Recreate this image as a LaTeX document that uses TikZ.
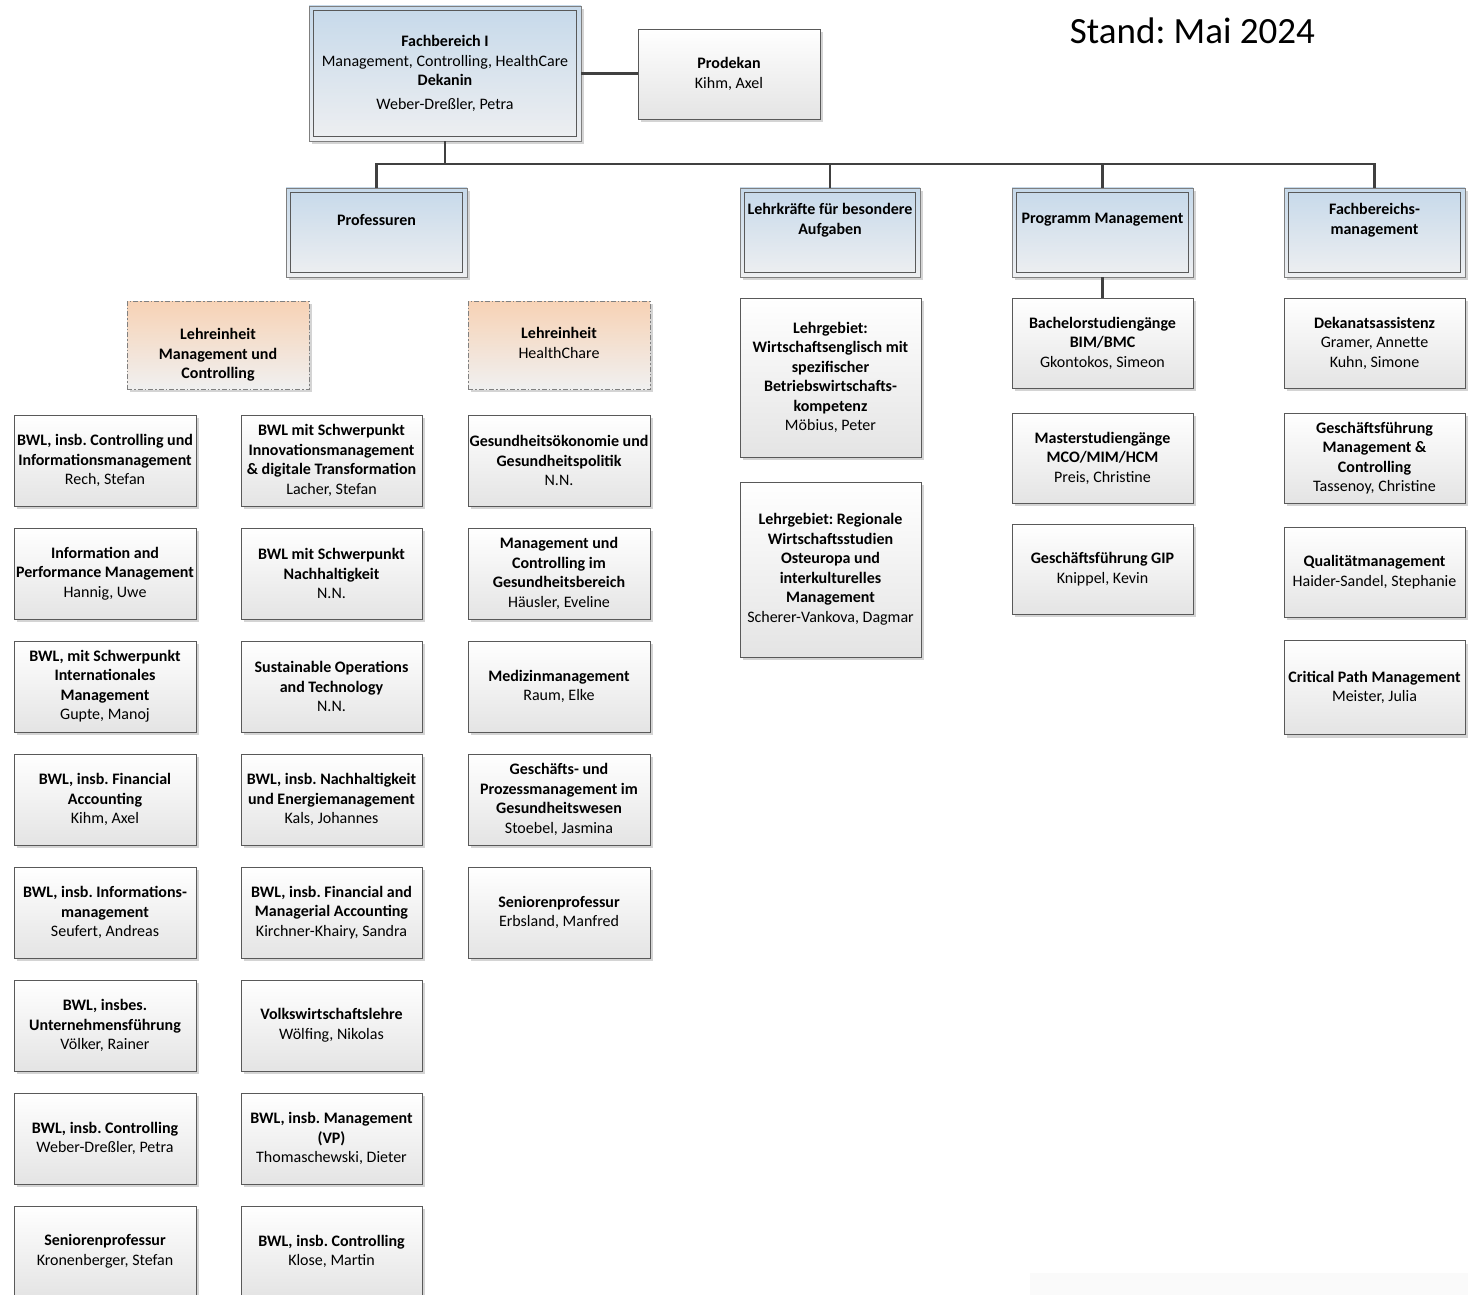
\documentclass[tikz,border=0pt]{standalone}
\usepackage{fontspec}
\setmainfont{Carlito}
\frenchspacing
\usetikzlibrary{shadows}
\definecolor{cblue}{HTML}{C6D9EA}
\definecolor{cgrey}{HTML}{EEEFF1}
\definecolor{cleafbot}{HTML}{E4E4E4}
\definecolor{cpeach}{HTML}{F7D2B5}
\definecolor{cpeachbot}{HTML}{F0F0F0}
\definecolor{cborder}{HTML}{595959}
\definecolor{couter}{HTML}{7F7F7F}
\definecolor{cline}{HTML}{404040}
\definecolor{cshadow}{HTML}{D4D4D4}
\newcommand{\B}[1]{\textbf{#1}}
\tikzset{
  base/.style={font=\fontsize{16}{19.5}\selectfont, align=center, inner sep=0pt},
  shad/.style={drop shadow={shadow xshift=3pt, shadow yshift=-3pt, fill=cshadow, opacity=1}},
  leaf/.style={base, shad, draw=cborder, line width=0.8pt, top color=white, bottom color=cleafbot,
    minimum width=182pt, minimum height=91pt},
  midbox/.style={base, shad, draw=couter, line width=0.8pt, top color=cblue, bottom color=cgrey,
    path picture={\draw[cborder, line width=1pt]
      ([shift={(4.5pt,4.5pt)}]path picture bounding box.south west) rectangle
      ([shift={(-4.5pt,-4.5pt)}]path picture bounding box.north east);}},
  unit/.style={base, shad, draw=gray, line width=0.8pt, dash pattern=on 5pt off 2pt on 1.5pt off 2pt,
    top color=cpeach, bottom color=cpeachbot, minimum width=182pt, minimum height=88pt},
  conn/.style={draw=cline, line width=2.8pt},
  title/.style={font=\fontsize{37}{44}\selectfont, inner sep=0pt, anchor=base}
}
\begin{document}
\begin{tikzpicture}[x=1pt, y=-1pt]
\useasboundingbox (0,0) rectangle (1468,1295);
\fill[black!2] (1030,1273) rectangle (1468,1295);

\node[title] (stand) at (1192.5,44) {Stand: Mai 2024};

% top level
\node[midbox, minimum width=272pt, minimum height=135pt] (fb) at (445,73.5)
  {\B{Fachbereich I}\\Management, Controlling, HealthCare\\\B{Dekanin}\\[4pt]Weber-Dreßler, Petra};
\node[leaf, minimum height=90pt] (pro) at (729,74) {\B{Prodekan}\\Kihm, Axel};

% second level
\node[midbox, minimum width=181pt, minimum height=89pt,
  label={[base, yshift=12.5pt]center:\B{Professuren}}] (prof) at (376.5,232.5) {};
\node[midbox, minimum width=180pt, minimum height=89pt,
  label={[base, yshift=12.5pt]center:{\B{Lehrkräfte für besondere}\\\B{Aufgaben}}}] (lfba) at (830,232.5) {};
\node[midbox, minimum width=181pt, minimum height=89pt,
  label={[base, yshift=12.5pt]center:\B{Programm Management}}] (prog) at (1102.5,232.5) {};
\node[midbox, minimum width=181pt, minimum height=89pt,
  label={[base, yshift=12.5pt]center:{\B{Fachbereichs-}\\\B{management}}}] (fbm) at (1374.5,232.5) {};

% connectors
\coordinate (bus) at (445,164);
\draw[conn] (fb.east) -- (fb.east -| pro.west);
\draw[conn] (fb.south) -- (bus);
\draw[conn] (bus) -| (prof.north);
\draw[conn] (bus) -| (lfba.north);
\draw[conn] (bus) -| (prog.north);
\draw[conn] (bus) -| (fbm.north);

% Lehreinheiten
\node[unit, label={[base, yshift=-10pt]center:{\B{Lehreinheit}\\\B{Management und}\\\B{Controlling}}}] (lemc) at (218,345) {};
\node[unit, label={[base, yshift=2pt]center:{\B{Lehreinheit}\\HealthChare}}] (lehc) at (559,345) {};

% column 1
\node[leaf] (a1) at (105,460.5) {\B{BWL, insb. Controlling und}\\\B{Informationsmanagement}\\Rech, Stefan};
\node[leaf] (a2) at (105,573.5) {\B{Information and}\\\B{Performance Management}\\Hannig, Uwe};
\node[leaf] (a3) at (105,686.5) {\B{BWL, mit Schwerpunkt}\\\B{Internationales}\\\B{Management}\\Gupte, Manoj};
\node[leaf] (a4) at (105,799.5) {\B{BWL, insb. Financial}\\\B{Accounting}\\Kihm, Axel};
\node[leaf] (a5) at (105,912.5) {\B{BWL, insb. Informations-}\\\B{management}\\Seufert, Andreas};
\node[leaf] (a6) at (105,1025.5) {\B{BWL, insbes.}\\\B{Unternehmensführung}\\Völker, Rainer};
\node[leaf] (a7) at (105,1138.5) {\B{BWL, insb. Controlling}\\Weber-Dreßler, Petra};
\node[leaf] (a8) at (105,1251.5) {\B{Seniorenprofessur}\\Kronenberger, Stefan};

% column 2
\node[leaf, minimum width=181pt] (b1) at (331.5,460.5) {\B{BWL mit Schwerpunkt}\\\B{Innovationsmanagement}\\\B{\& digitale Transformation}\\Lacher, Stefan};
\node[leaf, minimum width=181pt] (b2) at (331.5,573.5) {\B{BWL mit Schwerpunkt}\\\B{Nachhaltigkeit}\\N.N.};
\node[leaf, minimum width=181pt] (b3) at (331.5,686.5) {\B{Sustainable Operations}\\\B{and Technology}\\N.N.};
\node[leaf, minimum width=181pt] (b4) at (331.5,799.5) {\B{BWL, insb. Nachhaltigkeit}\\\B{und Energiemanagement}\\Kals, Johannes};
\node[leaf, minimum width=181pt] (b5) at (331.5,912.5) {\B{BWL, insb. Financial and}\\\B{Managerial Accounting}\\Kirchner-Khairy, Sandra};
\node[leaf, minimum width=181pt] (b6) at (331.5,1025.5) {\B{Volkswirtschaftslehre}\\Wölfing, Nikolas};
\node[leaf, minimum width=181pt] (b7) at (331.5,1138.5) {\B{BWL, insb. Management}\\\B{(VP)}\\Thomaschewski, Dieter};
\node[leaf, minimum width=181pt] (b8) at (331.5,1251.5) {\B{BWL, insb. Controlling}\\Klose, Martin};

% column 3
\node[leaf] (c1) at (559,460.5) {\B{Gesundheitsökonomie und}\\\B{Gesundheitspolitik}\\N.N.};
\node[leaf] (c2) at (559,573.5) {\B{Management und}\\\B{Controlling im}\\\B{Gesundheitsbereich}\\Häusler, Eveline};
\node[leaf] (c3) at (559,686.5) {\B{Medizinmanagement}\\Raum, Elke};
\node[leaf] (c4) at (559,799.5) {\B{Geschäfts- und}\\\B{Prozessmanagement im}\\\B{Gesundheitswesen}\\Stoebel, Jasmina};
\node[leaf] (c5) at (559,912.5) {\B{Seniorenprofessur}\\Erbsland, Manfred};

% column 4
\node[leaf, minimum width=181pt, minimum height=159pt] (d1) at (830.5,377.5) {\B{Lehrgebiet:}\\\B{Wirtschaftsenglisch mit}\\\B{spezifischer}\\\B{Betriebswirtschafts-}\\\B{kompetenz}\\Möbius, Peter};
\node[leaf, minimum width=181pt, minimum height=175pt] (d2) at (830.5,569.5) {\B{Lehrgebiet: Regionale}\\\B{Wirtschaftsstudien}\\\B{Osteuropa und}\\\B{interkulturelles}\\\B{Management}\\Scherer-Vankova, Dagmar};

% column 5
\node[leaf, minimum width=181pt, minimum height=90pt] (e1) at (1102.5,343) {\B{Bachelorstudiengänge}\\\B{BIM/BMC}\\Gkontokos, Simeon};
\node[leaf, minimum width=181pt, minimum height=90pt] (e2) at (1102.5,458) {\B{Masterstudiengänge}\\\B{MCO/MIM/HCM}\\Preis, Christine};
\node[leaf, minimum width=181pt, minimum height=90pt] (e3) at (1102.5,569) {\B{Geschäftsführung GIP}\\Knippel, Kevin};
\draw[conn] (prog.south) -- (e1.north);

% column 6
\node[leaf, minimum width=181pt, minimum height=90pt] (f1) at (1374.5,343) {\B{Dekanatsassistenz}\\Gramer, Annette\\Kuhn, Simone};
\node[leaf, minimum width=181pt, minimum height=90pt] (f2) at (1374.5,458) {\B{Geschäftsführung}\\\B{Management \&}\\\B{Controlling}\\Tassenoy, Christine};
\node[leaf, minimum width=181pt, minimum height=90pt] (f3) at (1374.5,572) {\B{Qualitätmanagement}\\Haider-Sandel, Stephanie};
\node[leaf, minimum width=181pt, minimum height=94pt] (f4) at (1374.5,687.5) {\B{Critical Path Management}\\Meister, Julia};
\end{tikzpicture}
\end{document}
